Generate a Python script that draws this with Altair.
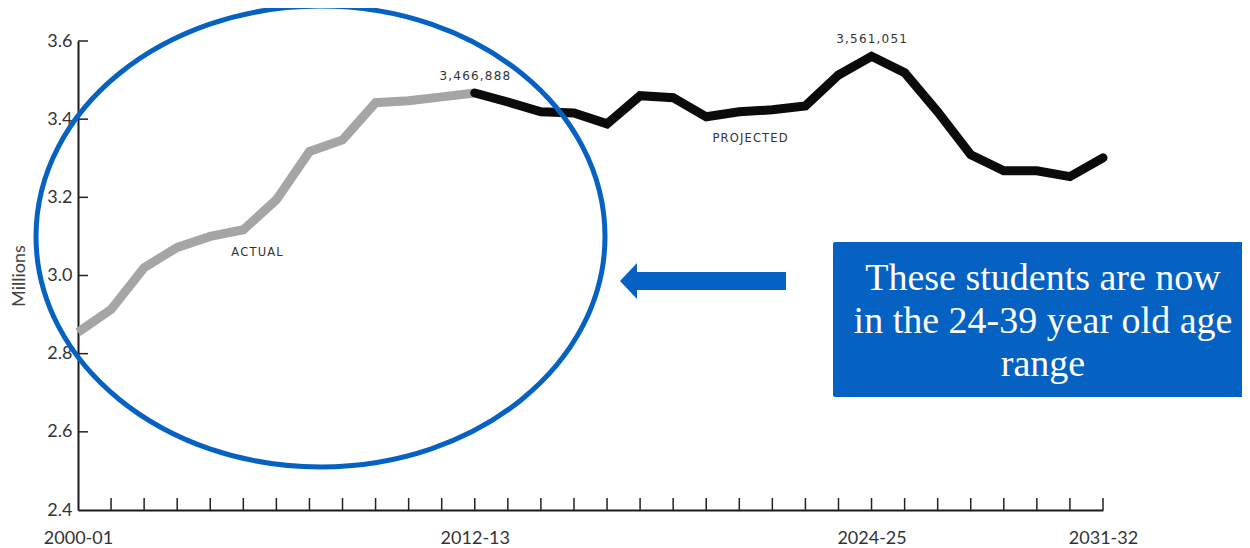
import altair as alt
import pandas as pd

# ---------------- data ----------------
years = ["2000-01", "2001-02", "2002-03", "2003-04", "2004-05", "2005-06", "2006-07",
         "2007-08", "2008-09", "2009-10", "2010-11", "2011-12", "2012-13", "2013-14",
         "2014-15", "2015-16", "2016-17", "2017-18", "2018-19", "2019-20", "2020-21",
         "2021-22", "2022-23", "2023-24", "2024-25", "2025-26", "2026-27", "2027-28",
         "2028-29", "2029-30", "2030-31", "2031-32"]
# enrollment, millions
values = [2.855, 2.913, 3.020, 3.072, 3.100, 3.117, 3.194, 3.317, 3.347, 3.442,
          3.447, 3.457, 3.466888, 3.444, 3.419, 3.416, 3.388, 3.460, 3.455, 3.406,
          3.419, 3.424, 3.434, 3.513, 3.561051, 3.519, 3.419, 3.309, 3.268, 3.268,
          3.253, 3.301]
last_actual = "2012-13"
labeled_years = ["2012-13", "2024-25"]
x_label_years = ["2000-01", "2012-13", "2024-25", "2031-32"]
y_tick_values = [2.4, 2.6, 2.8, 3.0, 3.2, 3.4, 3.6]
series_names = ["ACTUAL", "PROJECTED"]
callout_lines = ["These students are now", "in the 24-39 year old age", "range"]
y_title = "Millions"

BLUE = "#0561C2"
HAIR = "\u200a"

# ---------------- tables ----------------
split = years.index(last_actual)
rows = []
for i, (yr, v) in enumerate(zip(years, values)):
    start = int(yr[:4])
    lab = HAIR.join(f"{round(v * 1e6):,}") if yr in labeled_years else ""
    if i <= split:
        rows.append({"year": yr, "start": start, "value": v, "series": series_names[0], "label": lab})
    if i >= split:
        rows.append({"year": yr, "start": start, "value": v, "series": series_names[1], "label": lab})
df = pd.DataFrame(rows)
df_xt = pd.DataFrame({"start": [int(y[:4]) for y in years[1:]]})
df_yt = pd.DataFrame({"v": y_tick_values[1:]})
one = pd.DataFrame({"k": [0]})

x0, x1 = int(years[0][:4]), int(years[-1][:4])
xscale = alt.Scale(domain=[x0, x1], nice=False, zero=False)
yscale = alt.Scale(domain=[y_tick_values[0], y_tick_values[-1]], nice=False, zero=False)

X = alt.X("start:Q", scale=xscale, title=None,
          axis=alt.Axis(values=[int(y[:4]) for y in x_label_years],
                        labelExpr="datum.value + '-' + slice(toString(datum.value + 1), 2)",
                        labelFlush=False, labelPadding=19, labelAlign="center"))
Y = alt.Y("value:Q", scale=yscale, title=None,
          axis=alt.Axis(values=y_tick_values, format=".1f", labelPadding=6))

actual = alt.Chart(df).transform_filter(alt.datum.series == series_names[0]).mark_line(
    color="#a5a5a5", strokeWidth=9, strokeCap="butt", strokeJoin="miter").encode(x=X, y=Y)
proj = alt.Chart(df).transform_filter(alt.datum.series == series_names[1]).mark_line(
    color="#0b0b0b", strokeWidth=9, strokeCap="round", strokeJoin="miter").encode(x=X, y=Y)

yticks = alt.Chart(df_yt).mark_rule(color="#222222", strokeWidth=1.5).encode(
    y=alt.Y("v:Q", scale=yscale), x=alt.value(0), x2=alt.value(10))
xticks = alt.Chart(df_xt).mark_rule(color="#222222", strokeWidth=1.5).encode(
    x=alt.X("start:Q", scale=xscale), y=alt.value(469), y2=alt.value(457))

vlabels = alt.Chart(df).transform_filter(
    (alt.datum.label != "") & (alt.datum.series == series_names[1])
).mark_text(font="DejaVu Sans", fontSize=12, color="#333333", dy=-17, baseline="middle").encode(
    x=X, y=Y, text="label:N")

series_lab = []
for name, px, py in [(series_names[0], 179, 212), (series_names[1], 672, 98)]:
    series_lab.append(alt.Chart(one).mark_text(
        font="DejaVu Sans", fontSize=11.5, color="#333333", baseline="middle", align="center"
    ).encode(x=alt.value(px), y=alt.value(py), text=alt.value(HAIR.join(name))))

k = 0.5523
r = 0.810
ellipse_path = (f"M -1 0 C -1 {-r*k:.4f} {-k:.4f} {-r:.4f} 0 {-r:.4f} "
                f"C {k:.4f} {-r:.4f} 1 {-r*k:.4f} 1 0 "
                f"C 1 {r*k:.4f} {k:.4f} {r:.4f} 0 {r:.4f} "
                f"C {-k:.4f} {r:.4f} -1 {r*k:.4f} -1 0 Z")
ellipse = alt.Chart(one).mark_point(
    shape=ellipse_path, size=569 ** 2, filled=False, color=BLUE, strokeWidth=5, opacity=1
).encode(x=alt.value(242.5), y=alt.value(195.5))

arrow_path = ("M -1 0 L -0.795 -0.217 L -0.795 -0.108 L 1 -0.108 L 1 0.108 "
              "L -0.795 0.108 L -0.795 0.217 Z")
arrow = alt.Chart(one).mark_point(
    shape=arrow_path, size=166 ** 2, filled=True, color=BLUE, opacity=1, strokeWidth=0
).encode(x=alt.value(625), y=alt.value(240))

box = alt.Chart(one).mark_rect(color=BLUE, cornerRadius=2).encode(
    x=alt.value(755), x2=alt.value(1180), y=alt.value(201), y2=alt.value(356))
box_text = alt.Chart(one).mark_text(
    font="Liberation Serif", fontSize=38, color="white", lineHeight=43,
    align="center", baseline="alphabetic"
).encode(x=alt.value(965), y=alt.value(249), text=alt.value(callout_lines))

ytitle = alt.Chart(one).mark_text(
    font="Lato", fontSize=18, color="#444444", angle=270, align="center", baseline="middle"
).encode(x=alt.value(-58), y=alt.value(235), text=alt.value(y_title))

chart = alt.layer(
    actual, proj, yticks, xticks, vlabels, *series_lab, ellipse, arrow, box, box_text, ytitle
).properties(
    width=1025, height=469,
    autosize=alt.AutoSizeParams(type="none"),
    padding={"left": 70, "top": 33, "right": 139, "bottom": 36},
).configure_view(stroke=None).configure_axis(
    domainColor="#1a1a1a", domainWidth=2, ticks=False, tickSize=0, grid=False,
    labelFont="Lato", labelFontSize=18, labelColor="#333333"
)

chart.save("out.html", embed_options={"renderer": "svg", "actions": False})
